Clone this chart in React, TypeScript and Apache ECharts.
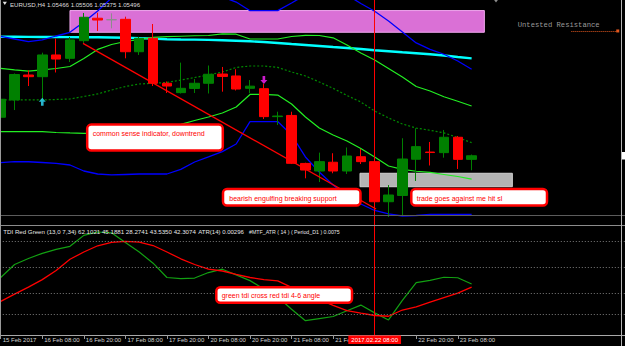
import React, { useEffect, useRef } from "react";
import * as echarts from "echarts";

// ---------- data ----------
const categories = [
  "15 Feb 20:00", "16 Feb 00:00", "16 Feb 04:00", "16 Feb 08:00", "16 Feb 12:00", "16 Feb 16:00", "16 Feb 20:00",
  "17 Feb 00:00", "17 Feb 04:00", "17 Feb 08:00", "17 Feb 12:00", "17 Feb 16:00", "17 Feb 20:00",
  "20 Feb 00:00", "20 Feb 04:00", "20 Feb 08:00", "20 Feb 12:00", "20 Feb 16:00", "20 Feb 20:00",
  "21 Feb 00:00", "21 Feb 04:00", "21 Feb 08:00", "21 Feb 12:00", "21 Feb 16:00", "21 Feb 20:00",
  "22 Feb 00:00", "22 Feb 04:00", "22 Feb 08:00", "22 Feb 12:00", "22 Feb 16:00", "22 Feb 20:00",
  "23 Feb 00:00", "23 Feb 04:00", "23 Feb 08:00", "23 Feb 12:00", "23 Feb 16:00", "23 Feb 20:00",
  "24 Feb 00:00", "24 Feb 04:00", "24 Feb 08:00", "24 Feb 12:00", "24 Feb 16:00", "24 Feb 20:00",
  "27 Feb 00:00", "27 Feb 04:00", "27 Feb 08:00",
];

const opens = [1.05817, 1.05961, 1.06169, 1.06155, 1.06336, 1.06308, 1.06455, 1.06642, 1.06629, 1.06633, 1.06363, 1.06475, 1.061, 1.06022, 1.06057, 1.061, 1.06177, 1.06161, 1.06058, 1.06055, 1.05822, 1.05832, 1.05432, 1.05369, 1.05442, 1.05369, 1.05488, 1.05447, 1.05113, 1.05165, 1.05467, 1.05527, 1.05522, 1.0565, 1.05466];
const highs = [1.06027, 1.06182, 1.06207, 1.06355, 1.06473, 1.06486, 1.06686, 1.06688, 1.06683, 1.06655, 1.06488, 1.06594, 1.06115, 1.06272, 1.06136, 1.06248, 1.06236, 1.06217, 1.06127, 1.06094, 1.05863, 1.05863, 1.05438, 1.05522, 1.05517, 1.05565, 1.05552, 1.05461, 1.05252, 1.05642, 1.05725, 1.05611, 1.05711, 1.05661, 1.05506];
const lows = [1.05794, 1.05877, 1.06077, 1.05969, 1.0619, 1.06277, 1.06436, 1.06536, 1.06558, 1.06308, 1.06336, 1.06077, 1.06019, 1.06015, 1.06019, 1.06015, 1.0603, 1.0604, 1.06017, 1.05802, 1.05752, 1.05427, 1.05308, 1.05277, 1.0535, 1.05344, 1.05427, 1.05102, 1.04986, 1.04994, 1.05286, 1.05415, 1.0548, 1.05386, 1.05375];
const closes = [1.05967, 1.06173, 1.06155, 1.06336, 1.06302, 1.06461, 1.0665, 1.06627, 1.0663, 1.06363, 1.06475, 1.061, 1.06077, 1.06058, 1.061, 1.06175, 1.06157, 1.06052, 1.06076, 1.05822, 1.05827, 1.05433, 1.05377, 1.05447, 1.05369, 1.05494, 1.05447, 1.05113, 1.05169, 1.05469, 1.05572, 1.05523, 1.0565, 1.05466, 1.05496];
const dojiIndex = 8;

const bandUpperBlue = [1.0649, 1.06469, 1.06447, 1.06461, 1.06494, 1.06525, 1.06611, 1.06702, 1.06811, 1.06877, 1.06911, 1.06927, 1.06927, 1.06911, 1.06877, 1.06844, 1.06819, 1.06777, 1.06705, 1.06705, 1.06705, 1.06769, 1.06836, 1.06877, 1.06894, 1.06836, 1.06765, 1.067, 1.06619, 1.06527, 1.06436, 1.06382, 1.06342, 1.06286, 1.06217];
const bandLowerBlue = [1.05438, 1.05447, 1.05446, 1.0544, 1.05432, 1.05419, 1.05369, 1.05344, 1.05336, 1.0534, 1.05344, 1.05344, 1.05344, 1.05382, 1.05444, 1.05486, 1.0553, 1.05594, 1.0578, 1.05781, 1.05781, 1.05669, 1.05486, 1.05361, 1.05252, 1.05161, 1.05094, 1.0504, 1.05011, 1.04994, 1.04998, 1.05007, 1.05007, 1.05007, 1.05007];
const bandUpperGreen = [1.06225, 1.06211, 1.06202, 1.06211, 1.06223, 1.0624, 1.06307, 1.06382, 1.06423, 1.06448, 1.06465, 1.06482, 1.06488, 1.06492, 1.06496, 1.06498, 1.06511, 1.06509, 1.06469, 1.06469, 1.06469, 1.0649, 1.065, 1.06498, 1.06479, 1.06419, 1.06352, 1.06294, 1.06223, 1.06152, 1.06073, 1.06036, 1.05988, 1.0595, 1.05911];
const bandLowerGreen = [1.05697, 1.05697, 1.05697, 1.05697, 1.0569, 1.05686, 1.05683, 1.05682, 1.05682, 1.05686, 1.05694, 1.05711, 1.05732, 1.05757, 1.0579, 1.05819, 1.05852, 1.05902, 1.06007, 1.06008, 1.06002, 1.05927, 1.05819, 1.05727, 1.05669, 1.05619, 1.05557, 1.05486, 1.05411, 1.05382, 1.05367, 1.05357, 1.0534, 1.05323, 1.05302];
const bandMiddle = [1.05961, 1.05961, 1.05961, 1.05961, 1.05965, 1.05969, 1.0599, 1.06011, 1.06044, 1.06073, 1.06094, 1.061, 1.06107, 1.06127, 1.06148, 1.06169, 1.06194, 1.06232, 1.06244, 1.06244, 1.06232, 1.06194, 1.06161, 1.06111, 1.06058, 1.05998, 1.05944, 1.05869, 1.05811, 1.05761, 1.05727, 1.05708, 1.05687, 1.05648, 1.05605];
const maCyan = [1.06488, 1.06488, 1.06487, 1.06486, 1.06486, 1.06485, 1.06484, 1.06483, 1.06481, 1.06479, 1.06476, 1.06472, 1.06467, 1.06465, 1.06464, 1.06462, 1.06458, 1.06454, 1.0645, 1.06444, 1.06436, 1.06427, 1.06419, 1.06411, 1.06402, 1.06394, 1.06386, 1.06375, 1.06367, 1.06358, 1.0635, 1.06342, 1.06332, 1.06319, 1.06308];

const tdiGreen = [46.0, 51.0, 53.3, 55.3, 56.8, 58.0, 62.2, 63.5, 63.2, 59.5, 55.8, 51.5, 46.0, 45.6, 45.8, 47.9, 49.2, 47.0, 44.8, 41.6, 38.5, 33.8, 29.4, 30.2, 31.0, 33.2, 35.4, 32.4, 29.7, 37.2, 44.0, 44.9, 46.1, 45.9, 43.5];
const tdiRed = [36.8, 39.6, 42.3, 45.2, 48.7, 53.0, 55.8, 58.2, 59.5, 59.9, 59.6, 58.3, 55.8, 53.2, 51.0, 49.2, 48.5, 47.2, 46.0, 45.2, 44.7, 42.2, 39.9, 37.6, 35.3, 33.3, 32.3, 31.4, 31.1, 33.5, 34.7, 36.5, 38.3, 40.0, 42.3];
const tdiLevels = [60, 50, 40, 32];
const tdiHeaderValues = ["62.1021", "45.1881", "28.2741", "43.5350", "42.3074"];

const timeLabelIndices = [0, 3, 6, 9, 12, 15, 18, 21, 24, 30, 33];
const firstTimeLabel = "15 Feb 2017";
const crosshairIndex = 27;
const crosshairLabel = "2017.02.22 08:00";
const bidPrice = 1.05496;
const symbolName = "EURUSD,H4";

const resistanceLine = [[41.2, 1.06536], [44.55, 1.06536]];
const pinkZone = [[5, 1.06706], [34.92, 1.06525]];
const grayZone = [[25.94, 1.0535], [36.94, 1.05238]];
const trendline = [[5.94, 1.06433], [27.1, 1.05052]];
const buyArrow = [[3, 1.05946]];
const sellArrow = [[19, 1.06127]];
const shiftMarker = [[35.76, 1.0679]];

const priceMin = 1.04919;
const priceMax = 1.06794;
const tdiMin = 23.9;
const tdiMax = 65.8;

// ---------- layout ----------
const SLOT = 13.85;
const GRID_LEFT = -6.2;
const GRID_WIDTH = categories.length * SLOT;
const FONT = '"Liberation Sans", Arial, sans-serif';

const callouts = [
  { text: "common sense indicator, downtrend", box: [87.2, 124.6, 135.6, 26], at: [92.7, 133.8] },
  { text: "bearish engulfing breaking support", box: [223, 189, 137.5, 16.5], at: [229.3, 198.2] },
  { text: "trade goes against me hit sl", box: [411.3, 189, 135.7, 16.5], at: [416.7, 198.2] },
  { text: "green tdi cross red tdi 4-6 angle", box: [216.3, 287.3, 135.7, 15.4], at: [221.7, 295.8] },
];

function buildOption() {
  const candleData: any[] = opens.map((o, i) => [o, closes[i], lows[i], highs[i]]);
  candleData[dojiIndex] = {
    value: candleData[dojiIndex],
    itemStyle: { color: "#8c8c8c", color0: "#8c8c8c", borderColor: "#8c8c8c", borderColor0: "#8c8c8c" },
  };

  const lineSeries = (data: number[], color: string, width: number, type: any = "solid", z = 2) => ({
    type: "line",
    xAxisIndex: 0,
    yAxisIndex: 0,
    data,
    showSymbol: false,
    symbol: "none",
    silent: true,
    z,
    lineStyle: { color, width, type },
  });

  const last = opens.length - 1;
  const header = `${symbolName} ${opens[last].toFixed(5)} ${highs[last].toFixed(5)} ${lows[last].toFixed(5)} ${closes[last].toFixed(5)}`;

  const graphics: any[] = [
    { type: "line", z: 50, shape: { x1: 0.5, y1: 0, x2: 0.5, y2: 335 }, style: { stroke: "#9a9a9a", lineWidth: 1 } },
    { type: "line", z: 50, shape: { x1: 621.5, y1: 0, x2: 621.5, y2: 346 }, style: { stroke: "#b4b4b4", lineWidth: 1 } },
    { type: "rect", z: 50, shape: { x: 622, y: 152, width: 4, height: 7.5 }, style: { fill: "#ffffff" } },
    { type: "polygon", z: 50, shape: { points: [[2.7, 1.8], [6.9, 1.8], [4.8, 5]] }, style: { fill: "#e0e0e0" } },
    { type: "text", z: 50, x: 10, y: 4.4, style: { text: header, fill: "#dcdcdc", fontSize: 6.1, fontFamily: FONT, verticalAlign: "middle" } },
    { type: "text", z: 50, x: 3.3, y: 231.8, style: { text: `TDI Red Green (13,0 7,34) ${tdiHeaderValues.join(" ")}`, fill: "#e6e6e6", fontSize: 6.15, fontFamily: FONT, verticalAlign: "middle" } },
    { type: "text", z: 50, x: 198.3, y: 231.8, style: { text: "ATR(14) 0.00296", fill: "#e6e6e6", fontSize: 6.0, fontFamily: FONT, verticalAlign: "middle" } },
    { type: "text", z: 50, x: 249, y: 231.8, style: { text: "#MTF_ATR ( 14 ) ( Period_D1 ) 0.0075", fill: "#e6e6e6", fontSize: 5.25, fontFamily: FONT, verticalAlign: "middle" } },
    { type: "text", z: 50, x: 517.7, y: 25.4, style: { text: "Untested Resistance", fill: "#9a9a9a", fontSize: 7.2, fontFamily: '"Liberation Mono", "DejaVu Sans Mono", monospace', verticalAlign: "middle" } },
  ];
  callouts.forEach((c) => {
    graphics.push({
      type: "group",
      z: 60,
      children: [
        { type: "rect", z: 60, shape: { x: c.box[0], y: c.box[1], width: c.box[2], height: c.box[3], r: 4 }, style: { fill: "#ffffff", stroke: "#ff0000", lineWidth: 2.5 } },
        { type: "text", z: 61, x: c.at[0], y: c.at[1], style: { text: c.text, fill: "#ff0000", fontSize: 7, fontFamily: FONT, verticalAlign: "middle" } },
      ],
    });
  });

  return {
    animation: false,
    backgroundColor: "#000000",
    textStyle: { fontFamily: FONT },
    grid: [
      { left: GRID_LEFT, top: 0, width: GRID_WIDTH, height: 225, containLabel: false, outerBoundsMode: "none" },
      { left: GRID_LEFT, top: 226, width: GRID_WIDTH, height: 109, containLabel: false, outerBoundsMode: "none" },
    ],
    xAxis: [
      {
        type: "category", gridIndex: 0, data: categories, boundaryGap: true,
        axisLine: { show: true, lineStyle: { color: "#8c8c8c", width: 1 } },
        axisTick: { show: false }, axisLabel: { show: false }, splitLine: { show: false },
      },
      {
        type: "category", gridIndex: 1, data: categories, boundaryGap: true,
        axisLine: { show: true, lineStyle: { color: "#a8a8a8", width: 1 } },
        axisTick: { show: true, alignWithLabel: true, length: 4, interval: (i: number) => timeLabelIndices.includes(i), lineStyle: { color: "#9a9a9a" } },
        axisLabel: {
          show: true, interval: (i: number) => timeLabelIndices.includes(i),
          formatter: (v: string, i: number) => (i === 0 ? firstTimeLabel : v),
          align: "left", margin: 2, padding: [0, 0, 0, 2], color: "#d2d2d2", fontSize: 6, fontFamily: FONT,
        },
        splitLine: { show: false },
      },
      { type: "value", gridIndex: 0, min: -0.5, max: categories.length - 0.5, show: false },
    ],
    yAxis: [
      { type: "value", gridIndex: 0, min: priceMin, max: priceMax, position: "right", axisLine: { show: false }, axisTick: { show: false }, axisLabel: { show: false }, splitLine: { show: false } },
      { type: "value", gridIndex: 1, min: tdiMin, max: tdiMax, position: "right", axisLine: { show: false }, axisTick: { show: false }, axisLabel: { show: false }, splitLine: { show: false } },
    ],
    graphic: graphics,
    series: [
      {
        type: "line", xAxisIndex: 2, yAxisIndex: 0, data: [], silent: true, z: 1,
        markArea: {
          silent: true,
          label: { show: false },
          data: [
            [{ coord: pinkZone[0], itemStyle: { color: "#da70d6", borderColor: "#f0a6ee", borderWidth: 1 } }, { coord: pinkZone[1] }],
            [{ coord: grayZone[0], itemStyle: { color: "#b4b4b4", borderColor: "#d0d0d0", borderWidth: 1 } }, { coord: grayZone[1] }],
          ],
        },
        markLine: {
          silent: true, symbol: ["none", "rect"], symbolSize: 3,
          label: { show: false },
          lineStyle: { color: "#e2571e", type: "dotted", width: 1 },
          data: [[{ coord: resistanceLine[0] }, { coord: resistanceLine[1] }]],
        },
      },
      lineSeries(maCyan, "#00ffff", 2.4),
      lineSeries(bandUpperBlue, "#0000ff", 1.3),
      lineSeries(bandLowerBlue, "#0000ff", 1.3),
      lineSeries(bandUpperGreen, "#22ee22", 1.2),
      lineSeries(bandLowerGreen, "#22ee22", 1.2),
      lineSeries(bandMiddle, "#008a00", 1.2, [2, 2]),
      {
        type: "candlestick", xAxisIndex: 0, yAxisIndex: 0, data: candleData, barWidth: 10, z: 3, silent: true,
        itemStyle: { color: "#008000", color0: "#ff0000", borderColor: "#008000", borderColor0: "#ff0000", borderWidth: 1 },
        markLine: {
          silent: true, symbol: ["none", "none"], label: { show: false },
          data: [
            { xAxis: crosshairIndex, lineStyle: { color: "#ff0000", width: 1, type: "solid" } },
            { yAxis: bidPrice, lineStyle: { color: "#5c5c5c", width: 1, type: "solid" } },
          ],
        },
      },
      {
        type: "line", xAxisIndex: 2, yAxisIndex: 0, data: trendline, showSymbol: false, symbol: "none", silent: true, z: 4,
        lineStyle: { color: "#ff0000", width: 1.3 },
      },
      {
        type: "scatter", xAxisIndex: 0, yAxisIndex: 0, data: buyArrow, silent: true, z: 4,
        symbol: "path://M4,0L8,4.5L5.5,4.5L5.5,9L2.5,9L2.5,4.5L0,4.5Z", symbolSize: [7, 8],
        itemStyle: { color: "#2fe0ff" },
      },
      {
        type: "scatter", xAxisIndex: 0, yAxisIndex: 0, data: sellArrow, silent: true, z: 4,
        symbol: "path://M2.5,0L5.5,0L5.5,4.5L8,4.5L4,9L0,4.5L2.5,4.5Z", symbolSize: [7, 8],
        itemStyle: { color: "#ff22ff" },
      },
      {
        type: "scatter", xAxisIndex: 2, yAxisIndex: 0, data: shiftMarker, silent: true, z: 4, clip: false,
        symbol: "triangle", symbolRotate: 180, symbolSize: [6, 4], itemStyle: { color: "#b0b0b0" },
      },
      {
        type: "line", xAxisIndex: 1, yAxisIndex: 1, data: tdiGreen, showSymbol: false, symbol: "none", silent: true, z: 2,
        lineStyle: { color: "#12a012", width: 1.2 },
        markLine: {
          silent: true, symbol: ["none", "none"], label: { show: false },
          lineStyle: { color: "#7c7c7c", width: 1, type: [1, 2] },
          data: tdiLevels.map((v) => ({ yAxis: v })),
        },
      },
      {
        type: "line", xAxisIndex: 1, yAxisIndex: 1, data: tdiRed, showSymbol: false, symbol: "none", silent: true, z: 3,
        lineStyle: { color: "#ff0000", width: 1.3 },
        markLine: {
          silent: true, symbol: ["none", "none"],
          lineStyle: { color: "#ff0000", width: 1, type: "solid" },
          label: {
            show: true, position: "start", distance: 0.5, formatter: crosshairLabel,
            color: "#ffffff", backgroundColor: "#ff0000", padding: [1.5, 3, 1, 3], fontSize: 6, fontFamily: FONT,
          },
          data: [{ xAxis: crosshairIndex }],
        },
      },
    ],
  };
}

export default function App() {
  const ref = useRef<HTMLDivElement>(null);
  useEffect(() => {
    document.body.style.margin = "0";
    document.body.style.background = "#000";
    const chart = echarts.init(ref.current!, null, { renderer: "svg" });
    chart.setOption(buildOption() as any);
    return () => chart.dispose();
  }, []);
  return (
    <div
      ref={ref}
      style={{ position: "absolute", left: 0, top: 0, width: 625, height: 346, background: "#000" }}
    />
  );
}
